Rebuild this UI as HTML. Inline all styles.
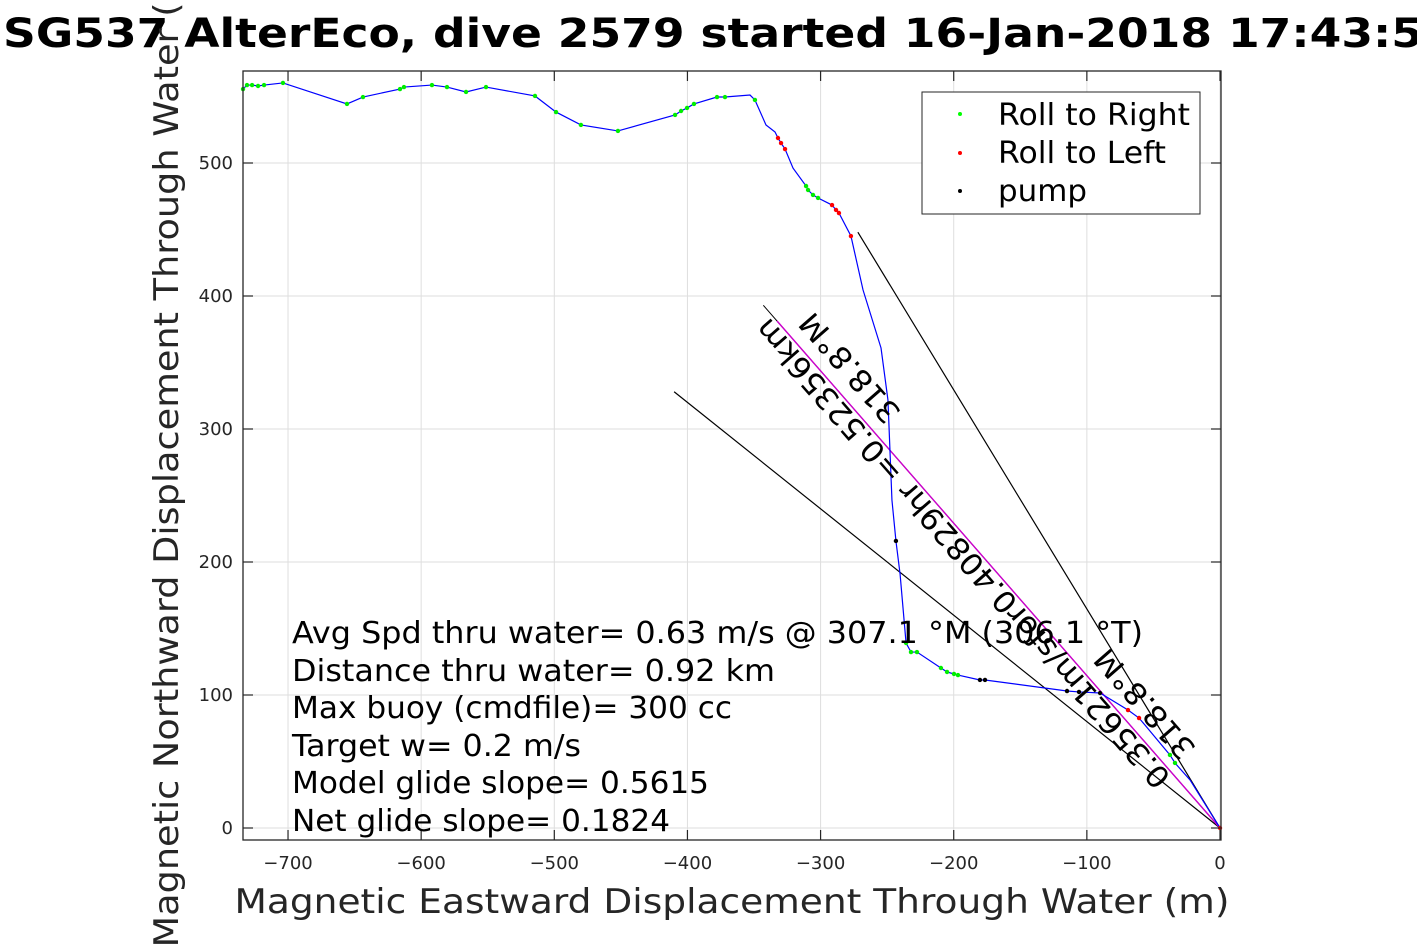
<!DOCTYPE html>
<html><head><meta charset="utf-8"><style>
html,body{margin:0;padding:0;background:#fff;overflow:hidden}
svg{display:block;font-family:"DejaVu Sans","Liberation Sans",sans-serif}
</style></head><body>
<svg id="chart" width="1417" height="945" viewBox="0 0 1417 945">
<g id="grid"></g>
<g id="lines"></g>
<g id="track"></g>
<rect x="243" y="71" width="978" height="769" fill="none" stroke="#262626" stroke-width="1.3"/>
<g id="ticks"></g>
<text x="3" y="47" font-size="40" font-weight="bold" textLength="1420" lengthAdjust="spacingAndGlyphs">SG537 AlterEco, dive 2579 started 16-Jan-2018 17:43:5</text>
<text x="732" y="913" font-size="34" fill="#262626" text-anchor="middle" textLength="995" lengthAdjust="spacingAndGlyphs">Magnetic Eastward Displacement Through Water (m)</text>
<text transform="translate(178,450) rotate(-90)" font-size="34" fill="#262626" text-anchor="middle" textLength="995" lengthAdjust="spacingAndGlyphs">Magnetic Northward Displacement Through Water (m)</text>
<g font-size="30" xml:space="preserve">
<text x="292" y="643" textLength="851" lengthAdjust="spacingAndGlyphs">Avg Spd thru water=  0.63 m/s @ 307.1 °M (306.1 °T)</text>
<text x="292" y="681" textLength="483" lengthAdjust="spacingAndGlyphs">Distance thru water=  0.92 km</text>
<text x="292" y="718" textLength="440" lengthAdjust="spacingAndGlyphs">Max buoy (cmdfile)= 300 cc</text>
<text x="292" y="756" textLength="289" lengthAdjust="spacingAndGlyphs">Target w= 0.2 m/s</text>
<text x="292" y="793" textLength="417" lengthAdjust="spacingAndGlyphs">Model glide slope= 0.5615</text>
<text x="292" y="831" textLength="378" lengthAdjust="spacingAndGlyphs">Net glide slope= 0.1824</text>
</g>
<g font-size="30">
<text transform="translate(1172,777) rotate(228.8)" textLength="612" lengthAdjust="spacingAndGlyphs">0.35621m/sfor0.40829hr =0.52356km</text>
<text transform="translate(902,412) rotate(228.8)" textLength="135" lengthAdjust="spacingAndGlyphs">318.8°M</text>
<text transform="translate(1197,748) rotate(228.8)" textLength="135" lengthAdjust="spacingAndGlyphs">318.8°M</text>
</g>
<g>
<rect x="922" y="92" width="278" height="122" fill="#fff" stroke="#262626" stroke-width="1"/>
<circle cx="960" cy="114" r="2" fill="#00ff00"/>
<text x="998" y="125" font-size="30" textLength="192" lengthAdjust="spacingAndGlyphs">Roll to Right</text>
<circle cx="960" cy="153" r="2" fill="#ff0000"/>
<text x="998" y="163" font-size="30" textLength="168" lengthAdjust="spacingAndGlyphs">Roll to Left</text>
<circle cx="960" cy="191" r="2" fill="#000"/>
<text x="998" y="201" font-size="30" textLength="89" lengthAdjust="spacingAndGlyphs">pump</text>
</g>
</svg>
<script>
const xTicks=[-700,-600,-500,-400,-300,-200,-100,0];
const yTicks=[0,100,200,300,400,500];
const trackX=[-733.8,-730.8,-727,-722.5,-718,-703.8,-655.7,-643.7,-615.9,-612.9,-591.9,-580.6,-566.3,-551.3,-514.5,-498.7,-480,-452.2,-409.3,-404.8,-400.3,-395.1,-377.8,-371.8,-353,-349.3,-341,-334.2,-332,-329.7,-326.7,-320.7,-310.9,-309.4,-305.7,-301.9,-291.4,-288.4,-286.2,-277.2,-268.1,-254.6,-249.4,-246.4,-243.4,-240.3,-235.8,-232.1,-227.6,-209.6,-205,-199.8,-196.8,-180.3,-176.5,-114.9,-105.9,-90.1,-69.1,-60.8,-37.6,-33.8,-22.5,0];
const trackY=[555.6,558.6,558.6,557.9,558.6,560.2,544.4,549.6,555.6,557.1,558.6,557.1,553.4,557.1,550.4,538.3,528.6,524.1,536.1,539.1,541.4,544.4,549.6,549.6,551.1,547.4,528.6,523.3,518.8,515,510.5,496.2,482.7,479.7,476,473.7,468.4,464.7,462.4,445.1,404.5,360.9,321.8,246.6,215.8,191,139.1,132.3,132.3,120.3,117.3,115.8,115,111.3,111.3,103,102.3,101.5,88.7,82.7,54.9,48.9,36.1,0];
const trackKind=['g','g','g','g','g','g','g','g','g','g','g','g','g','g','g','g','g','g','g','g','g','g','g','g','','g','','','r','r','r','','g','g','g','g','r','r','r','r','','','','','k','','g','g','g','g','g','g','g','k','k','k','k','k','r','r','g','g','','r'];
const refLineStart=[[-410,328],[-272,448]];
const currentStart=[-343,393];
const xs=v=>1220+v*1.3314, ys=v=>828-v*1.33;
const NS='http://www.w3.org/2000/svg';
function mk(t,a,p){const e=document.createElementNS(NS,t);for(const k in a)e.setAttribute(k,a[k]);p.appendChild(e);return e;}
const grid=document.getElementById('grid'),ticks=document.getElementById('ticks');
xTicks.forEach(v=>{
 const g=mk('line',{x1:xs(v),x2:xs(v),y1:71,y2:840,stroke:'#dedede','stroke-width':1},grid);
 
 
 const t1=mk('line',{x1:xs(v),x2:xs(v),y1:840,y2:830,stroke:'#262626','stroke-width':1.2},ticks);
 
 
 mk('line',{x1:xs(v),x2:xs(v),y1:71,y2:81,stroke:'#262626','stroke-width':1.2},ticks);
 const l=mk('text',{x:xs(v),y:869,'font-size':18,fill:'#262626','text-anchor':'middle'},ticks);
 l.textContent=v===0?'0':String(v).replace('-','\u2212');
 
 
});
yTicks.forEach(v=>{
 const g=mk('line',{x1:243,x2:1221,y1:ys(v),y2:ys(v),stroke:'#dedede','stroke-width':1},grid);
 
 
 const t1=mk('line',{x1:243,x2:253,y1:ys(v),y2:ys(v),stroke:'#262626','stroke-width':1.2},ticks);
 
 
 mk('line',{x1:1211,x2:1221,y1:ys(v),y2:ys(v),stroke:'#262626','stroke-width':1.2},ticks);
 const l=mk('text',{x:233,y:ys(v)+6,'font-size':18,fill:'#262626','text-anchor':'end'},ticks);
 l.textContent=String(v);
 
 
});
const lines=document.getElementById('lines');
refLineStart.forEach(p=>{
 const e=mk('line',{x1:xs(p[0]),y1:ys(p[1]),x2:xs(0),y2:ys(0),stroke:'#000','stroke-width':1.2},lines);
 
 
});
const cl=mk('line',{x1:xs(currentStart[0]),y1:ys(currentStart[1]),x2:xs(0),y2:ys(0),stroke:'#000','stroke-width':1},lines);


const cm=mk('line',{x1:xs(currentStart[0]*0.97),y1:ys(currentStart[1]*0.97),x2:xs(0),y2:ys(0),stroke:'#cc00cc','stroke-width':1.4},lines);


const track=document.getElementById('track');
const pl=mk('polyline',{points:trackX.map((x,i)=>xs(x)+','+ys(trackY[i])).join(' '),fill:'none',stroke:'#0000ff','stroke-width':1.2},track);


const col={g:'#00ee00',r:'#ff0000',k:'#000000'};
trackX.forEach((x,i)=>{
 const k=trackKind[i]; if(!k)return;
 const c=mk('circle',{cx:xs(x),cy:ys(trackY[i]),r:2.2,fill:col[k]},track);
 
 
});
</script>
</body></html>
